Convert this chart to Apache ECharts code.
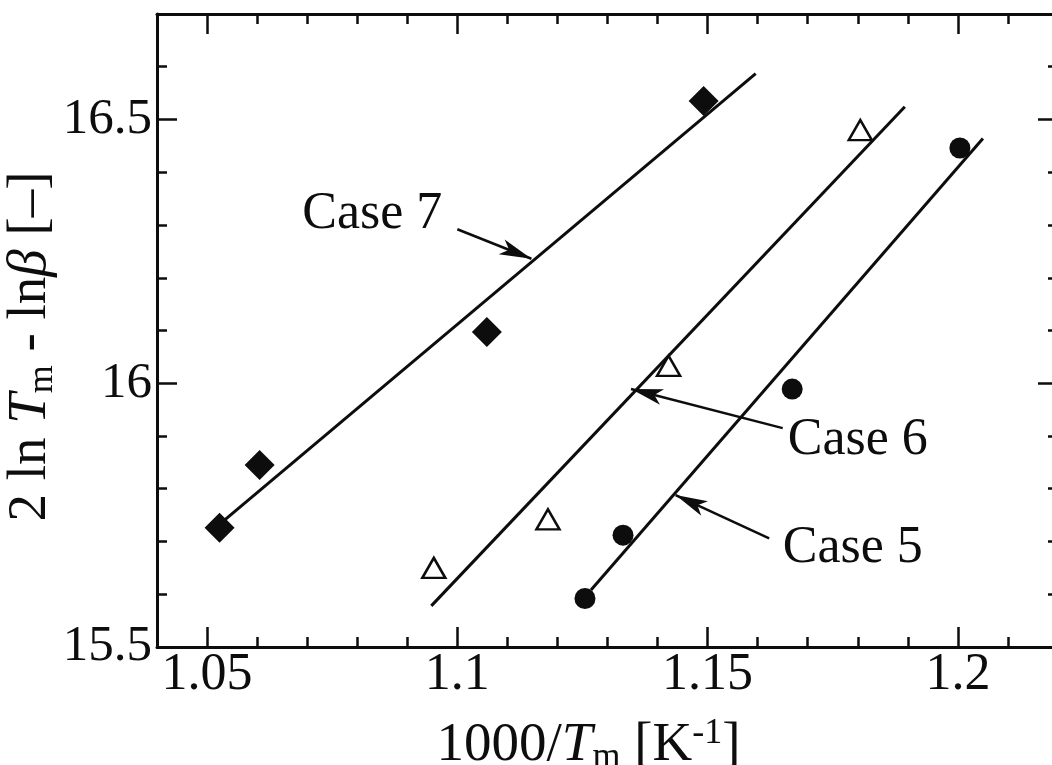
<!DOCTYPE html>
<html>
<head>
<meta charset="utf-8">
<script src="https://cdn.jsdelivr.net/npm/echarts@6/dist/echarts.min.js"></script>
<style>
  html, body { margin: 0; padding: 0; background: #ffffff; }
  #chart { width: 1052px; height: 765px; }
</style>
</head>
<body>
<div id="chart"></div>
<script>
// Measured points (x = 1000/Tm, y = 2 ln Tm - ln beta)
const case7X = [1.0525, 1.0605, 1.1059, 1.1492];
const case7Y = [15.726, 15.845, 16.097, 16.535];
const case6X = [1.0953, 1.1181, 1.1422, 1.1805];
const case6Y = [15.650, 15.742, 16.033, 16.480];
const case5X = [1.1255, 1.1331, 1.1669, 1.2004];
const case5Y = [15.592, 15.712, 15.989, 16.446];

// Regression line end points
const fit7X = [1.0533, 1.1596];
const fit7Y = [15.739, 16.587];
const fit6X = [1.0948, 1.1894];
const fit6Y = [15.578, 16.524];
const fit5X = [1.1267, 1.2050];
const fit5Y = [15.608, 16.464];

// Case call-outs: text anchor and arrow (tail -> head)
const caseNames = ['Case 7', 'Case 6', 'Case 5'];
const caseTextX = [1.0830, 1.1800, 1.1790];
const caseTextY = [16.320, 15.891, 15.687];
const arrowFromX = [1.1000, 1.1650, 1.1623];
const arrowFromY = [16.292, 15.915, 15.706];
const arrowToX = [1.1148, 1.1347, 1.1436];
const arrowToY = [16.236, 15.989, 15.788];

// Axis ranges and ticks
const xRange = [1.04, 1.22];
const yRange = [15.5, 16.7];
const xMajorTicks = [1.05, 1.1, 1.15, 1.2];
const xMinorTicks = [1.06, 1.07, 1.08, 1.09, 1.11, 1.12, 1.13, 1.14, 1.16, 1.17, 1.18, 1.19, 1.21];
const yMajorTicks = [15.5, 16, 16.5];
const yMinorTicks = [15.6, 15.7, 15.8, 15.9, 16.1, 16.2, 16.3, 16.4, 16.6];

const INK = '#0d0d0d';
const SERIF = '"Liberation Serif", "DejaVu Serif", serif';

const nameRich = {
  n: { fontFamily: SERIF, fontSize: 55, color: INK, lineHeight: 60 },
  i: { fontFamily: SERIF, fontSize: 55, color: INK, lineHeight: 60, fontStyle: 'italic' },
  s: { fontFamily: SERIF, fontSize: 36, color: INK, lineHeight: 22, verticalAlign: 'bottom' },
  p: { fontFamily: SERIF, fontSize: 36, color: INK, lineHeight: 30, verticalAlign: 'top' }
};

const fmt = v => String(+(+v).toFixed(2));

function xAxisPart(position, ticks, len, opts) {
  return Object.assign({
    type: 'value', gridIndex: 0, position: position,
    min: xRange[0], max: xRange[1],
    axisLine: { show: false, onZero: false },
    axisTick: { show: true, inside: true, length: len, customValues: ticks,
                lineStyle: { color: INK, width: 2.5 } },
    axisLabel: { show: false },
    splitLine: { show: false }
  }, opts || {});
}
function yAxisPart(position, ticks, len, opts) {
  return Object.assign({
    type: 'value', gridIndex: 0, position: position,
    min: yRange[0], max: yRange[1],
    axisLine: { show: false, onZero: false },
    axisTick: { show: true, inside: true, length: len, customValues: ticks,
                lineStyle: { color: INK, width: 2.5 } },
    axisLabel: { show: false },
    splitLine: { show: false }
  }, opts || {});
}

const pairs = (xs, ys) => xs.map((x, k) => [x, ys[k]]);

function fitSeries(name, xs, ys, k) {
  return {
    name: name, type: 'line', xAxisIndex: 0, yAxisIndex: 0,
    data: pairs(xs, ys), showSymbol: false, symbol: 'none',
    itemStyle: { color: INK },
    lineStyle: { color: INK, width: 3 }, z: 3, silent: true,
    markLine: {
      silent: true, animation: false,
      symbol: ['none', 'arrow'], symbolSize: [[1, 1], [12, 32]],
      itemStyle: { color: INK },
      lineStyle: { type: 'solid', color: INK, width: 2.5 },
      label: { show: false },
      data: [[
        { coord: [arrowFromX[k], arrowFromY[k]], symbol: 'none' },
        { coord: [arrowToX[k], arrowToY[k]], symbol: 'arrow', symbolSize: [12, 32],
          itemStyle: { color: INK } }
      ]]
    },
    markPoint: {
      silent: true, animation: false,
      symbol: 'rect', symbolSize: 1, itemStyle: { color: 'rgba(0,0,0,0)' },
      label: { show: true, position: 'inside', formatter: '{b}',
               fontFamily: SERIF, fontSize: 52, color: INK },
      data: [{ name: caseNames[k], coord: [caseTextX[k], caseTextY[k]] }]
    }
  };
}

const chart = echarts.init(document.getElementById('chart'), null, { renderer: 'canvas' });
chart.setOption({
  animation: false,
  backgroundColor: '#ffffff',
  grid: { left: 157, top: 14, width: 901, height: 633, containLabel: false,
          outerBoundsMode: 'none' },
  xAxis: [
    xAxisPart('bottom', xMinorTicks, 10, {
      axisLine: { show: true, onZero: false, lineStyle: { color: INK, width: 3 } },
      axisLabel: { show: true, customValues: xMajorTicks, formatter: fmt, margin: 2,
                   fontFamily: SERIF, fontSize: 52, color: INK },
      name: '{n|1000/}{i|T}{s|m}{n| [K}{p|-1}{n|]}',
      nameLocation: 'middle', nameGap: 69,
      nameTextStyle: { rich: nameRich, padding: [0, 38, 0, 0] }
    }),
    xAxisPart('bottom', xMajorTicks, 20),
    xAxisPart('top', xMinorTicks, 10, {
      axisLine: { show: true, onZero: false, lineStyle: { color: INK, width: 3 } }
    }),
    xAxisPart('top', xMajorTicks, 20)
  ],
  yAxis: [
    yAxisPart('left', yMinorTicks, 10, {
      axisLine: { show: true, onZero: false, lineStyle: { color: INK, width: 3 } },
      axisLabel: { show: true, customValues: yMajorTicks, formatter: fmt, margin: 5,
                   fontFamily: SERIF, fontSize: 51, color: INK },
      name: '{n|2 ln }{i|T}{s|m}{n| - ln}{i|β}{n| [–]}',
      nameLocation: 'middle', nameGap: 96, nameMoveOverlap: false,
      nameTextStyle: { rich: nameRich, padding: [0, 32, 0, 0] }
    }),
    yAxisPart('left', yMajorTicks, 20),
    yAxisPart('right', yMinorTicks, 10, {
      axisLine: { show: true, onZero: false, lineStyle: { color: INK, width: 3 } }
    }),
    yAxisPart('right', yMajorTicks, 20)
  ],
  series: [
    fitSeries('Case 7 fit', fit7X, fit7Y, 0),
    fitSeries('Case 6 fit', fit6X, fit6Y, 1),
    fitSeries('Case 5 fit', fit5X, fit5Y, 2),
    {
      name: 'Case 7', type: 'scatter', xAxisIndex: 0, yAxisIndex: 0,
      data: pairs(case7X, case7Y), symbol: 'diamond', symbolSize: 30,
      itemStyle: { color: INK, opacity: 1 }, z: 5, silent: true
    },
    {
      name: 'Case 6', type: 'scatter', xAxisIndex: 0, yAxisIndex: 0,
      data: pairs(case6X, case6Y), symbol: 'triangle', symbolSize: [23, 20],
      itemStyle: { color: '#ffffff', borderColor: INK, borderWidth: 2.5, opacity: 1 },
      z: 5, silent: true
    },
    {
      name: 'Case 5', type: 'scatter', xAxisIndex: 0, yAxisIndex: 0,
      data: pairs(case5X, case5Y), symbol: 'circle', symbolSize: 21,
      itemStyle: { color: INK, opacity: 1 }, z: 5, silent: true
    }
  ]
});
</script>
</body>
</html>
